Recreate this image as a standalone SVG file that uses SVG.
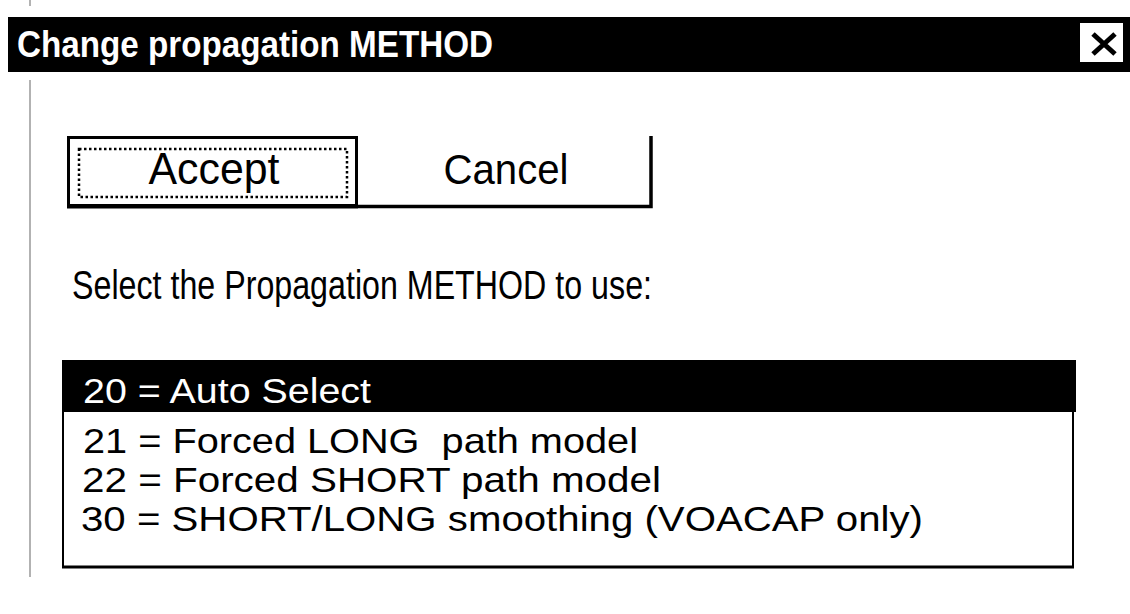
<svg xmlns="http://www.w3.org/2000/svg" width="1130" height="614" viewBox="0 0 1130 614">
  <style>
    .ui { font-family: "Liberation Sans", Arial, sans-serif; fill: #000; }
    .title { font-family: "Liberation Sans", Arial, sans-serif; font-weight: bold; fill: #fff; font-size: 36px; }
    .row { font-size: 35px; white-space: pre; }
    .edge { stroke: #000; fill: none; }
  </style>

  <rect width="1130" height="614" fill="#fff"/>

  <!-- window frame edge on the left -->
  <g id="frame">
    <line x1="30" y1="0" x2="30" y2="6" stroke="#999" stroke-width="1.5"/>
    <line x1="30" y1="80" x2="30" y2="577" stroke="#999" stroke-width="1.5"/>
  </g>

  <!-- caption bar -->
  <g id="titlebar">
    <rect x="8" y="17" width="1122" height="55" fill="#000"/>
    <text class="title" x="17" y="57" textLength="476" lengthAdjust="spacingAndGlyphs">Change propagation METHOD</text>
    <rect x="1080" y="23" width="43" height="39" fill="#fff"/>
    <path d="M1093 34 L1115 54 M1115 34 L1093 54" stroke="#000" stroke-width="5" fill="none"/>
  </g>

  <!-- default button with focus rectangle -->
  <g id="accept">
    <rect x="68.5" y="137.5" width="288" height="68" class="edge" stroke-width="3"/>
    <line x1="67" y1="207" x2="358" y2="207" stroke="#000" stroke-width="3"/>
    <rect x="79" y="149" width="268" height="48" class="edge" stroke-width="2.5" stroke-dasharray="2.5 2.5"/>
    <text class="ui" x="214" y="184" font-size="44" text-anchor="middle" textLength="131" lengthAdjust="spacingAndGlyphs">Accept</text>
  </g>

  <g id="cancel">
    <path d="M358 206.5 H651 V136" class="edge" stroke-width="3.5"/>
    <text class="ui" x="506" y="184" font-size="43" text-anchor="middle" textLength="125" lengthAdjust="spacingAndGlyphs">Cancel</text>
  </g>

  <g id="prompt">
    <text class="ui" x="72" y="299" font-size="40" textLength="580" lengthAdjust="spacingAndGlyphs">Select the Propagation METHOD to use:</text>
  </g>

  <!-- list of methods; first entry is highlighted -->
  <g id="methods">
    <path d="M63 361 V567 H1073 V361" class="edge" stroke-width="2"/>
    <line x1="62" y1="567" x2="1074" y2="567" stroke="#000" stroke-width="3"/>
    <rect x="62" y="360" width="1014" height="52" fill="#000"/>
    <text class="ui row" x="83" y="403" style="fill:#fff" textLength="288" lengthAdjust="spacingAndGlyphs">20 = Auto Select</text>
    <text class="ui row" x="83" y="453" textLength="555" lengthAdjust="spacingAndGlyphs">21 = Forced LONG  path model</text>
    <text class="ui row" x="82" y="492" textLength="579" lengthAdjust="spacingAndGlyphs">22 = Forced SHORT path model</text>
    <text class="ui row" x="81" y="531" textLength="842" lengthAdjust="spacingAndGlyphs">30 = SHORT/LONG smoothing (VOACAP only)</text>
  </g>
</svg>
